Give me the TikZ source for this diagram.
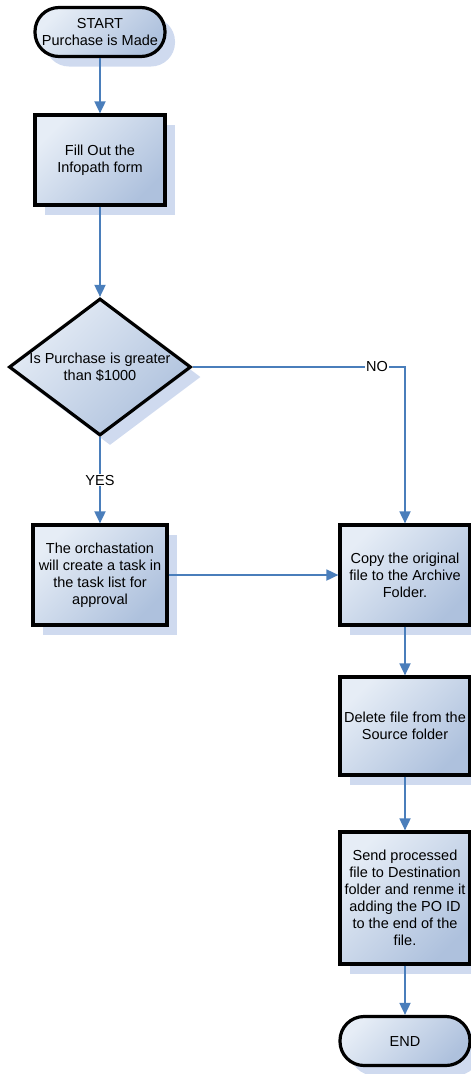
\documentclass[tikz,border=0pt]{standalone}
\usepackage{fontspec}
\setmainfont{Liberation Sans}
\usetikzlibrary{arrows.meta,shapes.geometric,shadows}
\definecolor{FlowBlue}{HTML}{4A7EBB}
\definecolor{BoxLight}{HTML}{E6EDF6}
\definecolor{BoxDark}{HTML}{AEC1DD}
\definecolor{ShadowBlue}{HTML}{CFDAEF}

\begin{document}
\begin{tikzpicture}[x=1pt, y=-1pt, -{Triangle[length=12pt,width=11pt]}, color=FlowBlue, line width=1.8pt,
      every node/.append style={font=\fontsize{14.5}{17}\selectfont, text=black, align=center}]
    \tikzstyle{task} = [rectangle, draw=black, line width=3.2pt, minimum width=131pt, minimum height=100pt,
      top color=BoxLight, bottom color=BoxDark, shading angle=45,
      drop shadow={shadow xshift=10pt, shadow yshift=-10pt, fill=ShadowBlue, opacity=1}]
    \tikzstyle{terminal} = [task, rounded corners=24pt, minimum width=130pt, minimum height=49pt]
    \tikzstyle{decision} = [task, diamond, minimum width=182pt, minimum height=137pt, inner sep=0pt]
    \tikzstyle{answer} = [fill=white, inner sep=1pt]
    \useasboundingbox (0,0) rectangle (471,1074);
    \node (start) [terminal] at (100,32) {START\\Purchase is Made};
    \node (fill) [task, minimum width=130pt, minimum height=90pt] at (100,160) {Fill Out the\\Infopath form};
    \node (decide) [decision] at (100,367) {};
    \node (decidetext) at (decide) {Is Purchase is greater\\than \$1000};
    \node (orch) [task, minimum width=134pt] at (100,575) {The orchastation\\will create a task in\\the task list for\\approval};
    \node (copy) [task, minimum width=130pt] at (405,575) {Copy the original\\file to the Archive\\Folder.};
    \node (delete) [task, minimum width=130pt, minimum height=98pt] at (405,726) {Delete file from the\\Source folder};
    \node (send) [task, minimum width=130pt, minimum height=132pt] at (405,898) {Send processed\\file to Destination\\folder and renme it\\adding the PO ID\\to the end of the\\file.};
    \node (finish) [terminal] at (405,1041) {END};
    \draw (start) -- (fill);
    \draw (fill) -- (decide);
    \draw (decide) -- node [answer] {YES} (orch);
    \draw (decide.east) -| node [answer, pos=0.434] {NO} (copy);
    \draw (orch) -- (copy);
    \draw (copy) -- (delete);
    \draw (delete) -- (send);
    \draw (send) -- (finish);
\end{tikzpicture}
\end{document}
